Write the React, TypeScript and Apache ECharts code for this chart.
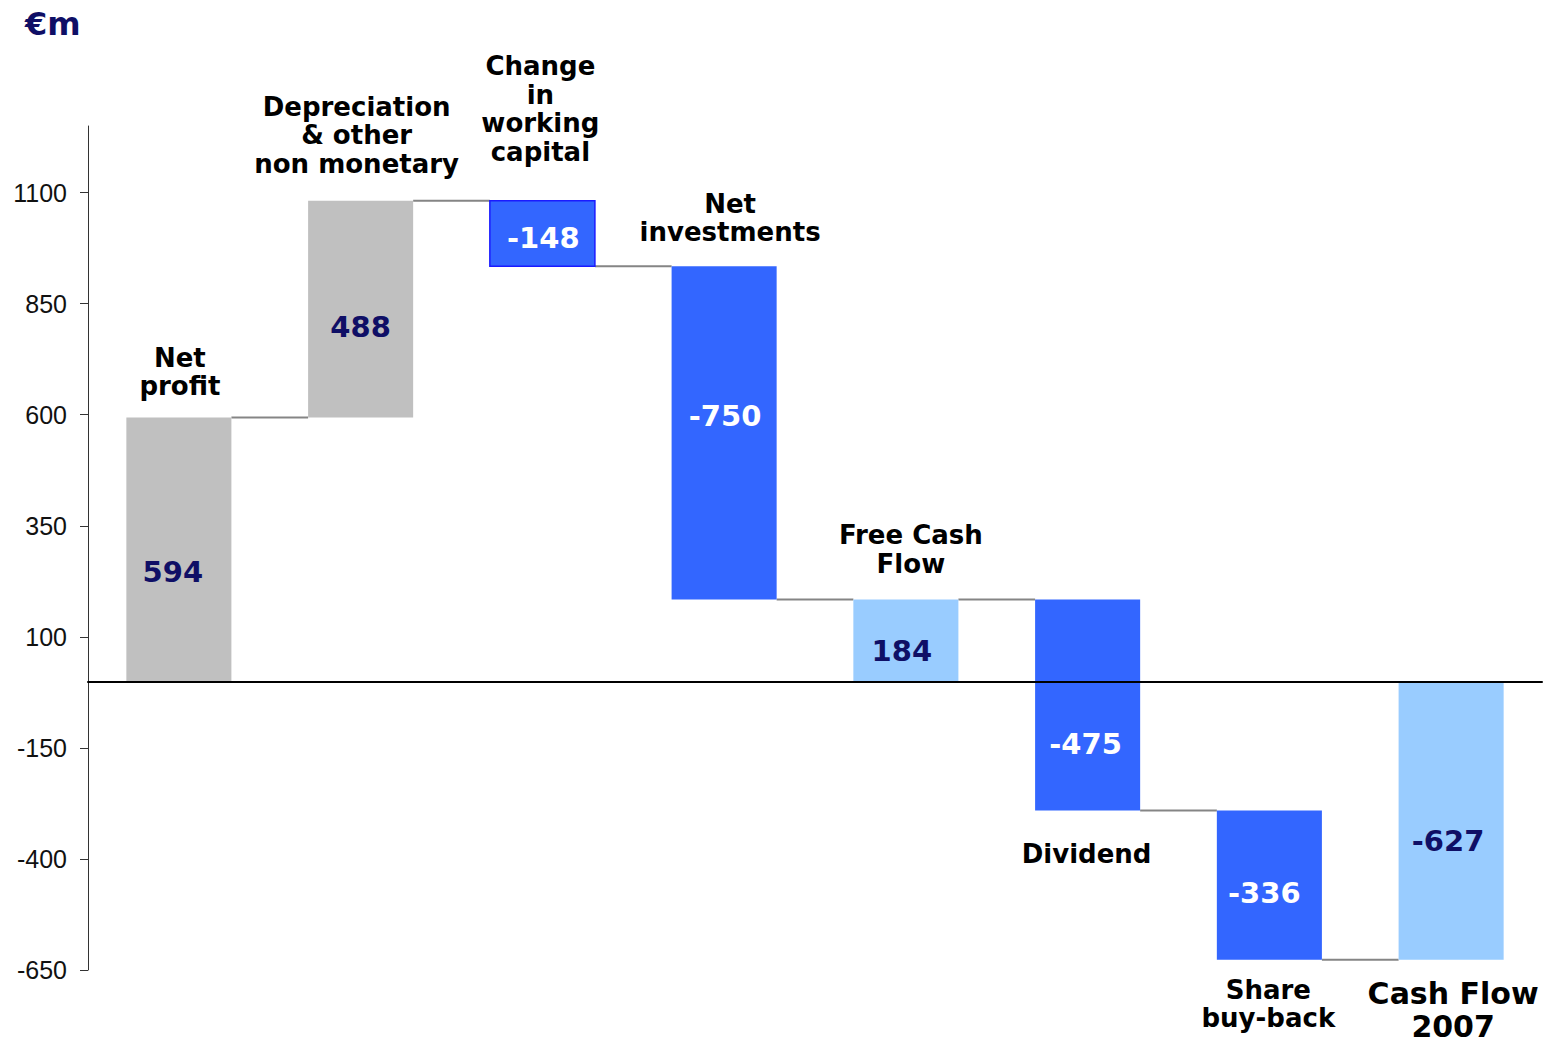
import React, { useEffect, useRef } from "react";
import * as echarts from "echarts";

// ---- data ----
const categories = [
  "Net\nprofit",
  "Depreciation\n& other\nnon monetary",
  "Change\nin\nworking\ncapital",
  "Net\ninvestments",
  "Free Cash\nFlow",
  "Dividend",
  "Share\nbuy-back",
  "Cash Flow\n2007",
];
const values = [594, 488, -148, -750, 184, -475, -336, -627];
const kinds = ["income", "income", "change", "change", "subtotal", "change", "change", "subtotal"];
const yTicks = [-650, -400, -150, 100, 350, 600, 850, 1100];

// ---- layout / style (not data) ----
const namePlacement = ["top", "top", "top", "top", "top", "bottom", "bottom", "bottom"];
const nameGap = [31, 37, 49, 34, 36, 43, 30, 34];
const nameDx = [1, -4, -2, 6, 5, -1, -1, 2];
const valueDx = [-6, 0, 1, 1, -4, -2, -5, -3];
const valueDy = [23, 18, 5, -17, 11, 39, 8, 20];

const FILL: Record<string, string> = { income: "#c0c0c0", change: "#3366ff", subtotal: "#99ccff" };
const VALUE_COLOR: Record<string, string> = { income: "#0f0f66", change: "#ffffff", subtotal: "#0f0f66" };
const FONT = "DejaVu Sans, Verdana, sans-serif";

// build waterfall ranges
const bars: number[][] = [];
const levels: number[][] = [];
let running = 0;
values.forEach((v, i) => {
  let lo: number, hi: number, end: number;
  if (kinds[i] === "subtotal") {
    end = running;
    lo = Math.min(0, end);
    hi = Math.max(0, end);
  } else {
    const start = running;
    end = start + v;
    lo = Math.min(start, end);
    hi = Math.max(start, end);
  }
  running = end;
  bars.push([i, lo, hi, v]);
  if (i < values.length - 1) levels.push([i, end]);
});

export default function App() {
  const ref = useRef<HTMLDivElement>(null);
  useEffect(() => {
    if (!ref.current) return;
    const chart = echarts.init(ref.current, null, { renderer: "svg" });
    const BAR_RATIO = 0.578;
    chart.setOption({
      animation: false,
      backgroundColor: "#ffffff",
      grid: { left: 88, right: 7, top: 126, bottom: 74, containLabel: false },
      graphic: [
        {
          type: "text",
          left: 25,
          top: 8,
          style: { text: "€m", fill: "#0f0f66", fontSize: 32, fontWeight: "bold", fontFamily: FONT },
        },
      ],
      xAxis: {
        type: "category",
        data: categories,
        boundaryGap: true,
        axisLine: { show: true, onZero: true, lineStyle: { color: "#000", width: 2 } },
        axisTick: { show: false },
        axisLabel: { show: false },
        splitLine: { show: false },
        z: 5,
      },
      yAxis: {
        type: "value",
        min: -650,
        max: 1250,
        axisLine: { show: true, onZero: false, lineStyle: { color: "#333", width: 1 } },
        axisTick: { show: true, length: 8, lineStyle: { color: "#333" }, customValues: yTicks },
        axisLabel: {
          color: "#111",
          fontSize: 25,
          fontFamily: "Liberation Sans, Arial, sans-serif",
          margin: 21,
          customValues: yTicks,
          formatter: (v: number) => String(v),
        },
        splitLine: { show: false },
      },
      series: [
        {
          type: "custom",
          name: "connectors",
          data: levels,
          z: 1,
          renderItem: (params: any, api: any) => {
            const i = api.value(0);
            const lvl = api.value(1);
            const w = api.size([1, 0])[0] * BAR_RATIO;
            const p1 = api.coord([i, lvl]);
            const p2 = api.coord([i + 1, lvl]);
            return {
              type: "line",
              shape: { x1: p1[0] + w / 2, y1: p1[1], x2: p2[0] - w / 2, y2: p2[1] },
              style: { stroke: "#858585", lineWidth: 2 },
            };
          },
        },
        {
          type: "custom",
          name: "bars",
          data: bars,
          z: 3,
          renderItem: (params: any, api: any) => {
            const i = api.value(0);
            const lo = api.value(1);
            const hi = api.value(2);
            const v = api.value(3);
            const kind = kinds[i];
            const pTop = api.coord([i, hi]);
            const pBot = api.coord([i, lo]);
            const w = api.size([1, 0])[0] * BAR_RATIO;
            const cx = pTop[0];
            const lineH = 28.5;
            const isBig = i === categories.length - 1;
            const nLH = isBig ? 33 : lineH;
            const children: any[] = [
              {
                type: "rect",
                shape: { x: cx - w / 2, y: pTop[1], width: w, height: pBot[1] - pTop[1] },
                style: {
                  fill: FILL[kind],
                  stroke: i === 2 ? "#1a1aff" : null,
                  lineWidth: i === 2 ? 1.5 : 0,
                },
              },
              {
                type: "text",
                z2: 10,
                style: {
                  text: String(v),
                  x: cx + valueDx[i],
                  y: (pTop[1] + pBot[1]) / 2 + valueDy[i],
                  align: "center",
                  verticalAlign: "middle",
                  fill: VALUE_COLOR[kind],
                  fontSize: 29,
                  fontWeight: "bold",
                  fontFamily: FONT,
                },
              },
            ];
            const top = namePlacement[i] === "top";
            children.push({
              type: "text",
              z2: 10,
              style: {
                text: categories[i],
                x: cx + nameDx[i],
                y: top ? pTop[1] - nameGap[i] + nLH / 2 : pBot[1] + nameGap[i] - nLH / 2,
                align: "center",
                verticalAlign: top ? "bottom" : "top",
                lineHeight: nLH,
                fill: "#000",
                fontSize: isBig ? 30 : 26,
                fontWeight: "bold",
                fontFamily: FONT,
              },
            });
            return { type: "group", children };
          },
        },
      ],
    });
    return () => chart.dispose();
  }, []);
  return (
    <div
      ref={ref}
      style={{ position: "absolute", left: 0, top: 0, width: "1549px", height: "1044px" }}
    />
  );
}
